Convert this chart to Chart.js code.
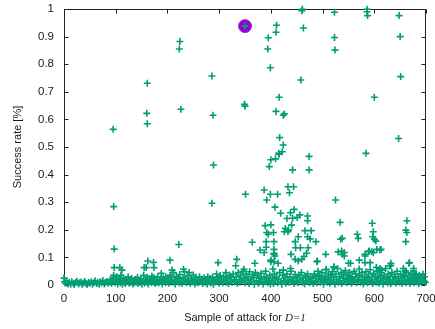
<!DOCTYPE html>
<html>
<head>
<meta charset="utf-8">
<script src="https://cdn.jsdelivr.net/npm/chart.js@4/dist/chart.umd.min.js"></script>
<style>
  html, body { margin: 0; padding: 0; background: #fff; }
</style>
</head>
<body>
<canvas id="rateChart" width="435" height="329"></canvas>
<script>
// dense band of samples close to zero  [sample, rate]
const lowBand = [
  [0,.025],[1,.012],[3,.006],[5,.015],[8,.004],[10,.01],[13,.003],[15,.012],[18,.006],[20,.002],
  [23,.009],[25,.014],[28,.004],[30,.008],[33,.011],[35,.003],[38,.007],[40,.013],[43,.005],[45,.002],
  [48,.009],[50,.006],[53,.012],[55,.003],[58,.008],[60,.015],[63,.005],[65,.01],[68,.003],[70,.012],
  [73,.007],[75,.016],[78,.004],[80,.009],[83,.013],[85,.006],[88,.011],[90,.02],
  [92,.005],[94,.015],[96,.035],[99,.008],[100,.018],[102,.03],[104,.004],[105,.012],[107,.022],[109,.008],
  [110,.035],[112,.016],[113,.003],[115,.025],[117,.01],[119,.005],[120,.02],[122,.013],[124,.03],[126,.006],
  [127,.018],[129,.01],[131,.024],[133,.004],[134,.014],[136,.008],[138,.02],[140,.011],[143,.005],[145,.016],
  [147,.009],[149,.022],[151,.003],[152,.013],[154,.035],[156,.007],[158,.018],[160,.011],[161,.028],[163,.004],
  [165,.015],[167,.021],[169,.008],[170,.032],[172,.012],[174,.026],[176,.005],[178,.017],[179,.01],[181,.03],
  [183,.007],[185,.02],[187,.013],[188,.042],[190,.004],[192,.025],[194,.016],[196,.009],[197,.03],[199,.012],
  [201,.022],[203,.006],[205,.035],[206,.015],[208,.027],[210,.01],[212,.045],[214,.018],[215,.004],[217,.03],
  [219,.012],[221,.024],[223,.008],[224,.038],[226,.016],[228,.005],[230,.027],[232,.012],[233,.048],[235,.02],
  [237,.008],[239,.033],[241,.015],[242,.045],[244,.006],[246,.024],[248,.011],[250,.036],[251,.018],[253,.004],
  [255,.028],[257,.01],[259,.02],[260,.008],[262,.03],[264,.013],[266,.022],[268,.005],[269,.016],[271,.026],
  [273,.009],[275,.018],[277,.004],[278,.03],[280,.012],[282,.024],[284,.007],[286,.015],[287,.028],[289,.003],
  [291,.02],[293,.011],[295,.04],[296,.017],[298,.026],[300,.006],[302,.034],[304,.014],[305,.022],[307,.008],
  [309,.03],[311,.016],[313,.045],[314,.01],[316,.025],[318,.005],[320,.035],[322,.018],[323,.028],[325,.009],
  [327,.04],[329,.02],[331,.012],[333,.03],[335,.006],[337,.045],[339,.02],[340,.01],[342,.035],[344,.015],
  [346,.05],[348,.025],[350,.008],[352,.04],[354,.018],[356,.03],[358,.005],[359,.048],[361,.022],[363,.012],
  [365,.038],[367,.028],[368,.003],[370,.045],[372,.015],[374,.035],[376,.006],[377,.025],[379,.012],[381,.042],
  [383,.02],[385,.004],[387,.03],[389,.012],[390,.05],[392,.02],[394,.008],[396,.015],[398,.035],[399,.004],
  [401,.012],[403,.025],[405,.005],[407,.04],[409,.018],[411,.03],[413,.008],[415,.022],[417,.045],[419,.012],
  [421,.003],[423,.035],[425,.015],[427,.026],[429,.006],[431,.04],[433,.018],[435,.01],[437,.03],[439,.05],
  [441,.015],[443,.022],[445,.005],[447,.038],[449,.012],[451,.028],[453,.008],[455,.035],[457,.018],[459,.045],
  [461,.01],[463,.025],[465,.004],[467,.032],[469,.015],[471,.04],[473,.022],[475,.008],[477,.03],[479,.014],
  [481,.025],[482,.005],[484,.04],[486,.015],[487,.03],[489,.008],[491,.05],[492,.02],[494,.035],[496,.01],
  [497,.025],[499,.045],[501,.015],[502,.003],[504,.032],[506,.02],[507,.055],[509,.01],[511,.04],[512,.025],
  [514,.006],[516,.035],[517,.018],[519,.048],[521,.012],[522,.028],[524,.004],[526,.04],[527,.02],[529,.06],
  [531,.01],[532,.03],[534,.015],[536,.045],[537,.005],[539,.025],[541,.038],[542,.012],[544,.052],[546,.02],
  [547,.008],[549,.035],[551,.015],[552,.045],[554,.025],[556,.006],[557,.03],[559,.012],[561,.05],[562,.02],
  [564,.04],[566,.008],[567,.028],[569,.015],[571,.058],[572,.035],[574,.01],[576,.045],[577,.02],[579,.004],
  [581,.03],[582,.015],[584,.048],[586,.025],[587,.008],[589,.038],[591,.018],[592,.055],[594,.012],[596,.03],
  [597,.005],[599,.042],[601,.02],[602,.03],[604,.01],[606,.05],[607,.025],[609,.006],[611,.035],[612,.015],
  [614,.045],[616,.022],[617,.004],[619,.032],[621,.012],[622,.06],[624,.025],[626,.008],[627,.04],[629,.018],
  [631,.03],[632,.005],[634,.045],[636,.02],[637,.012],[639,.038],[641,.025],[642,.006],[644,.05],[646,.015],
  [647,.03],[649,.01],[651,.04],[652,.022],[654,.005],[656,.035],[657,.015],[659,.028],[661,.008],[662,.045],
  [664,.02],[666,.012],[667,.035],[669,.005],[671,.025],[672,.042],[674,.015],[676,.03],[677,.008],[679,.02],
  [681,.04],[682,.012],[684,.028],[686,.005],[687,.035],[689,.018],[691,.025],[692,.008],[694,.04],[696,.015],
  [697,.03],[699,.01]
];

// isolated samples between about 0.03 and 0.1
const scatterMid = [
  [95,.026],[97,.063],[108,.063],[112,.054],[142,.028],[155,.063],[159,.063],[162,.087],[173,.082],[174,.063],
  [205,.09],[209,.054],[231,.057],[298,.081],[332,.07],[334,.093],[348,.057],[369,.079],[392,.028],[400,.084],
  [406,.084],[404,.058],[400,.09],[414,.079],[424,.054],[438,.06],[447,.093],[453,.087],[460,.093],[489,.084],
  [490,.087],[507,.057],[522,.064],[522,.066],[550,.079],[554,.079],[571,.09],[582,.081],[592,.081],[604,.064],
  [611,.06],[614,.054],[630,.069],[632,.079],[632,.071],[656,.06],[660,.051],[667,.079],[668,.081],[676,.06],
  [676,.051],[680,.036]
];

// samples that reach a higher success rate
const scatterHigh = [
  [95,.564],[96,.284],[97,.13],[160,.622],[161,.731],[161,.584],[222,.147],[223,.855],[224,.882],[226,.637],
  [286,.757],[286,.296],[288,.615],[289,.435],[350,.938],[349,.655],[350,.648],[351,.329],
  [364,.155],[379,.127],[387,.118],[387,.344],[389,.215],[391,.157],[391,.137],[392,.19],[392,.308],[395,.184],
  [394,.855],[395,.896],[397,.429],[399,.787],[399,.329],[400,.454],[400,.218],[405,.19],[406,.157],[406,.129],
  [406,.112],[406,.115],[408,.105],[408,.282],[409,.457],[410,.629],[410,.916],[411,.941],[413,.329],[415,.477],
  [416,.474],[416,.68],[417,.534],[419,.26],[422,.483],[424,.507],[424,.615],[426,.62],[426,.193],[428,.205],
  [431,.241],[433,.356],[433,.193],[434,.199],[436,.334],[438,.262],[439,.111],[440,.217],[442,.242],[442,.417],
  [444,.356],[445,.274],[447,.157],[448,.135],[451,.245],[453,.175],[456,.254],[457,.135],[458,.743],[460,.994],
  [461,.999],[463,.931],[464,.103],[466,.197],[469,.115],[471,.25],[471,.175],[471,.233],[472,.135],[474,.466],
  [474,.417],[476,.167],[478,.197],[487,.157],[506,.111],[523,.988],[523,.897],[524,.851],[525,.308],[530,.12],
  [534,.227],[535,.166],[538,.169],[537,.123],[538,.111],[542,.118],[542,.105],[567,.184],[569,.169],[582,.111],
  [582,.105],[584,.477],[586,.999],[586,.99],[587,.976],[589,.121],[590,.123],[595,.121],[596,.224],[598,.193],
  [597,.175],[600,.166],[603,.159],[598,.117],[600,.68],[605,.129],[611,.127],[613,.129],[647,.531],[648,.976],
  [650,.9],[651,.755],[661,.199],[661,.157],[663,.233],[663,.19]
];

// best attack, highlighted
const bestPoint = [[350, .938]];

const xTicks = [0, 100, 200, 300, 400, 500, 600, 700];
const yTicks = [0, .1, .2, .3, .4, .5, .6, .7, .8, .9, 1];

const toXY = (list) => list.map(([x, y]) => ({ x: x, y: y }));
const textColor = "#1a1a1a";
const labelFont = { family: "'Liberation Sans', Arial, sans-serif", size: 11 };
const tickFont = { family: "'Liberation Sans', Arial, sans-serif", size: 11.5 };

// border round the plot and inward tick marks on all four sides
const framePlugin = {
  id: "frame",
  beforeDatasetsDraw(chart) {
    const { ctx, chartArea: a, scales } = chart;
    const L = Math.round(a.left) + 0.5, R = Math.round(a.right) - 0.5;
    const T = Math.round(a.top) + 0.5, B = Math.round(a.bottom) - 0.5;
    ctx.save();
    ctx.strokeStyle = "#222";
    ctx.lineWidth = 1;
    ctx.strokeRect(L, T, R - L, B - T);
    ctx.beginPath();
    xTicks.forEach((v) => {
      const px = Math.round(scales.x.getPixelForValue(v)) + 0.5;
      ctx.moveTo(px, B); ctx.lineTo(px, B - 4);
      ctx.moveTo(px, T); ctx.lineTo(px, T + 4);
    });
    yTicks.forEach((v) => {
      const py = Math.round(scales.y.getPixelForValue(v)) + 0.5;
      ctx.moveTo(L, py); ctx.lineTo(L + 4, py);
      ctx.moveTo(R, py); ctx.lineTo(R - 4, py);
    });
    ctx.stroke();
    ctx.restore();
  },
  afterDraw(chart) {
    // x title with italic "D=1"
    const { ctx, chartArea: a } = chart;
    const plain = "Sample of attack for ";
    const ital = "D=1";
    ctx.save();
    ctx.fillStyle = textColor;
    ctx.textBaseline = "middle";
    ctx.font = "11px 'Liberation Sans', Arial, sans-serif";
    const w1 = ctx.measureText(plain).width;
    ctx.font = "italic 11px 'Liberation Serif', 'Times New Roman', serif";
    const w2 = ctx.measureText(ital).width;
    const x0 = (a.left + a.right) / 2 - (w1 + w2) / 2;
    const y0 = 318;
    ctx.font = "11px 'Liberation Sans', Arial, sans-serif";
    ctx.fillText(plain, x0, y0);
    ctx.font = "italic 11px 'Liberation Serif', 'Times New Roman', serif";
    ctx.fillText(ital, x0 + w1, y0);
    ctx.restore();
  },
};

const ctx = document.getElementById("rateChart").getContext("2d");

new Chart(ctx, {
  type: "scatter",
  data: {
    datasets: [
      {
        label: "attacks",
        data: toXY(lowBand.concat(scatterMid, scatterHigh)),
        pointStyle: "cross",
        pointRadius: 3.5,
        borderColor: "#009e73",
        backgroundColor: "#009e73",
        borderWidth: 1.6,
        clip: false,
      },
      {
        label: "best",
        data: toXY(bestPoint),
        pointStyle: "circle",
        pointRadius: 6.5,
        backgroundColor: "#9400d3",
        borderColor: "#a030e0",
        borderWidth: 1,
        clip: false,
      },
    ],
  },
  options: {
    responsive: false,
    animation: false,
    layout: { padding: { top: 9, right: 9, left: 0, bottom: 0 } },
    plugins: {
      legend: { display: false },
      tooltip: { enabled: false },
    },
    scales: {
      x: {
        type: "linear",
        min: 0,
        max: 700,
        grid: { display: false, drawTicks: false },
        border: { display: false },
        afterFit: (s) => { s.height = 44; s.paddingLeft = 0; s.paddingRight = 0; },
        afterBuildTicks: (s) => { s.ticks = xTicks.map((v) => ({ value: v })); },
        ticks: { color: textColor, font: tickFont, padding: 7, maxRotation: 0 },
      },
      y: {
        min: 0,
        max: 1,
        grid: { display: false, drawTicks: false },
        border: { display: false },
        afterFit: (s) => { s.width = 64; s.paddingTop = 0; s.paddingBottom = 0; },
        afterBuildTicks: (s) => { s.ticks = yTicks.map((v) => ({ value: v })); },
        ticks: {
          color: textColor,
          font: tickFont,
          padding: 10,
          callback: (v) => String(Number(v.toFixed(2))),
        },
        title: {
          display: true,
          text: "Success rate [%]",
          color: textColor,
          font: labelFont,
          padding: { top: 11, bottom: 0 },
        },
      },
    },
  },
  plugins: [framePlugin],
});
</script>
</body>
</html>
